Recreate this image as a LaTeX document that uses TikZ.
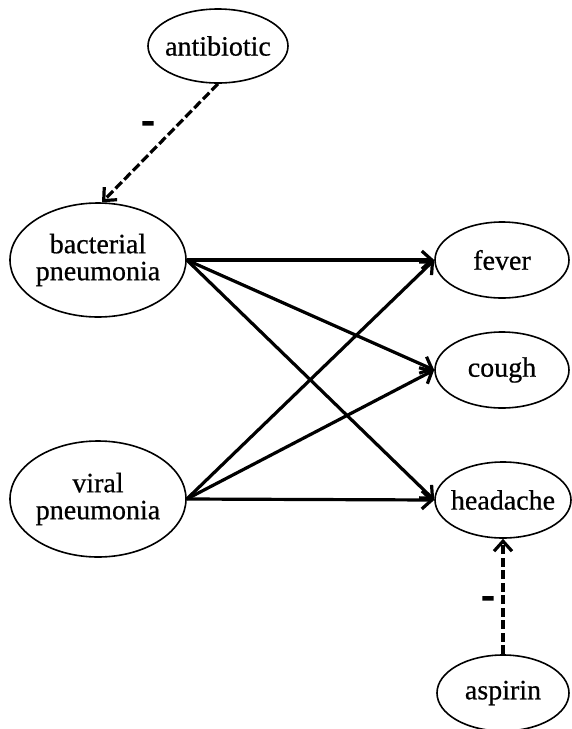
\documentclass[tikz,border=0pt]{standalone}
\usepackage{fontspec}
\setmainfont{Liberation Serif}
\usetikzlibrary{shapes.geometric,arrows.meta}
\begin{document}
\begin{tikzpicture}[x=1pt,y=-1pt,
  var/.style={ellipse, draw, line width=1.6pt, inner sep=0pt},
  txt/.style={align=center, inner sep=0pt,
    font=\addfontfeature{FakeBold=0.6}\fontsize{28}{27}\selectfont},
  link/.style={line width=3.2pt, -{Straight Barb[length=10pt,width=18pt]}},
  neglink/.style={link, dash pattern=on 9pt off 3.5pt},
  sign/.style={font=\bfseries\addfontfeature{FakeBold=3}\fontsize{38}{38}\selectfont, inner sep=0pt}]
\useasboundingbox[fill=white] (0,0) rectangle (571,729);
\node[var, minimum width=140pt, minimum height=74pt] (anti) at (218,46) {};
\node[var, minimum width=176pt, minimum height=114pt] (bac) at (98,260) {};
\node[var, minimum width=176pt, minimum height=116pt] (vir) at (98,499) {};
\node[var, minimum width=134pt, minimum height=76pt] (fever) at (502,260) {};
\node[var, minimum width=134pt, minimum height=76pt] (cough) at (502,370) {};
\node[var, minimum width=136pt, minimum height=76pt] (head) at (503,500) {};
\node[var, minimum width=132pt, minimum height=76pt] (asp) at (503,693) {};
\node[txt] (tanti) at (anti) {antibiotic};
\node[txt] (tbac) at (bac) {bacterial\\pneumonia};
\node[txt] (tvir) at (vir) {viral\\pneumonia};
\node[txt] (tfever) at (fever) {fever};
\node[txt] (tcough) at (cough) {cough};
\node[txt] (thead) at (head) {headache};
\node[txt] (tasp) at (asp) {aspirin};
\draw[link] (bac.east) -- (fever.west);
\draw[link] (bac.east) -- (cough.west);
\draw[link] (bac.east) -- (head.west);
\draw[link] (vir.east) -- (fever.west);
\draw[link] (vir.east) -- (cough.west);
\draw[link] (vir.east) -- (head.west);
\draw[neglink] (anti.south) -- (bac.86);
\draw[neglink] (asp.north) -- (head.south);
\node[sign] (s1) at (148,127) {-};
\node[sign] (s2) at (488,602) {-};
\end{tikzpicture}
\end{document}
